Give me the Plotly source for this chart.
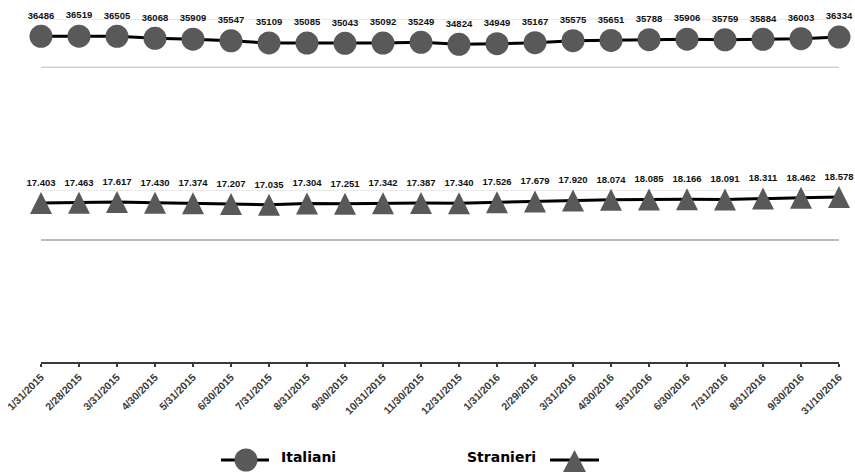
import plotly.graph_objects as go

# Monthly series
dates = [
    "1/31/2015", "2/28/2015", "3/31/2015", "4/30/2015", "5/31/2015", "6/30/2015",
    "7/31/2015", "8/31/2015", "9/30/2015", "10/31/2015", "11/30/2015", "12/31/2015",
    "1/31/2016", "2/29/2016", "3/31/2016", "4/30/2016", "5/31/2016", "6/30/2016",
    "7/31/2016", "8/31/2016", "9/30/2016", "31/10/2016",
]
italiani = [
    36486, 36519, 36505, 36068, 35909, 35547, 35109, 35085, 35043, 35092, 35249,
    34824, 34949, 35167, 35575, 35651, 35788, 35906, 35759, 35884, 36003, 36334,
]
stranieri = [
    17403, 17463, 17617, 17430, 17374, 17207, 17035, 17304, 17251, 17342, 17387,
    17340, 17526, 17679, 17920, 18074, 18085, 18166, 18091, 18311, 18462, 18578,
]

# Value band shown for each series (bottom, top)
italiani_band = [30000, 40000]
stranieri_band = [10000, 20000]

W, H = 855, 472
ML, MR = 41, 16


def px_x(px):
    return (px - ML) / (W - ML - MR)


def px_y(py):
    return (H - py) / H


MARKER_GREY = "#595959"
LABEL_FONT = dict(family="Liberation Sans", size=9.5, color="#111111", weight="bold")

fig = go.Figure()

fig.add_trace(go.Scatter(
    x=dates, y=italiani, xaxis="x", yaxis="y",
    mode="lines+markers+text", name="Italiani", showlegend=False,
    line=dict(color="black", width=3),
    marker=dict(symbol="circle", size=23, color=MARKER_GREY),
    text=[str(v) for v in italiani], textposition="top center",
    textfont=LABEL_FONT, cliponaxis=False, hoverinfo="x+y",
))

fig.add_trace(go.Scatter(
    x=dates, y=stranieri, xaxis="x2", yaxis="y2",
    mode="lines+markers+text", name="Stranieri", showlegend=False,
    line=dict(color="black", width=3),
    marker=dict(symbol="arrow-down", angle=180, standoff=11, size=22, color=MARKER_GREY),
    text=[f"{v:,}".replace(",", ".") for v in stranieri], textposition="top center",
    textfont=LABEL_FONT, cliponaxis=False, hoverinfo="x+y",
))

# Upper panel: 30000-40000, lower panel scaled so 10000-20000 spans the same height band
top_px, bot_px = 19.5, 67.5
s_top_px, s_bot_px, axis_px = 190.0, 240.0, 362.0
per_px = (stranieri_band[1] - stranieri_band[0]) / (s_bot_px - s_top_px)
s_low = stranieri_band[0] - (axis_px - s_bot_px) * per_px

hidden_y = dict(showticklabels=False, showgrid=False, zeroline=False, fixedrange=True)

fig.update_layout(
    width=W, height=H,
    margin=dict(l=ML, r=MR, t=0, b=0),
    paper_bgcolor="white", plot_bgcolor="white",
    xaxis=dict(domain=[0, 1], anchor="y", type="category", range=[0, len(dates) - 1],
               showticklabels=False, showgrid=False, zeroline=False, showline=False),
    yaxis=dict(domain=[px_y(bot_px), px_y(top_px)], range=italiani_band, **hidden_y),
    xaxis2=dict(domain=[0, 1], anchor="y2", type="category", range=[0, len(dates) - 1],
                showgrid=False, zeroline=False, showline=True, linecolor="#3a3a3a", linewidth=2,
                ticks="outside", ticklen=3, tickwidth=1.5, tickcolor="#3a3a3a", tickangle=-45,
                tickfont=dict(family="Liberation Sans", size=10.5, color="#3a3a3a", weight="bold"),
                automargin=False),
    yaxis2=dict(domain=[px_y(axis_px), px_y(s_top_px)], range=[s_low, stranieri_band[1]], **hidden_y),
    showlegend=False,
)

# Band lines: light at the top of each band, darker at the bottom
for yref, (lo, hi) in (("y", italiani_band), ("y2", stranieri_band)):
    fig.add_shape(type="line", xref="paper", yref=yref, x0=0, x1=1, y0=hi, y1=hi,
                  line=dict(color="#d6d6d6", width=1), layer="below")
    fig.add_shape(type="line", xref="paper", yref=yref, x0=0, x1=1, y0=lo, y1=lo,
                  line=dict(color="#a3a3a3", width=1.5), layer="below")

# Legend drawn beneath the chart
leg_y = 460
fig.add_shape(type="line", xref="paper", yref="paper",
              x0=px_x(221), x1=px_x(269), y0=px_y(leg_y), y1=px_y(leg_y),
              line=dict(color="black", width=3))
fig.add_shape(type="circle", xref="paper", yref="paper",
              x0=px_x(234.5), x1=px_x(257.5), y0=px_y(471.5), y1=px_y(448.5),
              fillcolor=MARKER_GREY, line=dict(width=0))
fig.add_annotation(text="Italiani", xref="paper", yref="paper", x=px_x(279), y=px_y(456.5),
                   xanchor="left", yanchor="middle", showarrow=False,
                   font=dict(family="DejaVu Sans", size=14, color="black", weight="bold"))

fig.add_shape(type="line", xref="paper", yref="paper",
              x0=px_x(550), x1=px_x(599), y0=px_y(leg_y), y1=px_y(leg_y),
              line=dict(color="black", width=3))
tri = "M {:.5f} {:.5f} L {:.5f} {:.5f} L {:.5f} {:.5f} Z".format(
    px_x(563), px_y(472), px_x(574.5), px_y(450), px_x(586), px_y(472))
fig.add_shape(type="path", xref="paper", yref="paper", path=tri,
              fillcolor=MARKER_GREY, line=dict(width=0))
fig.add_annotation(text="Stranieri", xref="paper", yref="paper", x=px_x(465), y=px_y(456.5),
                   xanchor="left", yanchor="middle", showarrow=False,
                   font=dict(family="DejaVu Sans", size=14, color="black", weight="bold"))

fig.write_html("out.html")
